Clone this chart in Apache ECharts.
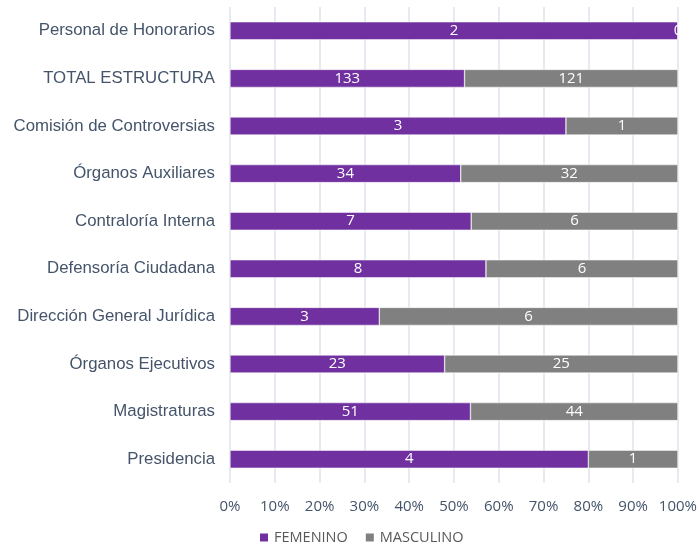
<!DOCTYPE html>
<html><head><meta charset="utf-8">
<script src="https://cdn.jsdelivr.net/npm/echarts@6/dist/echarts.min.js"></script>
<style>html,body{margin:0;padding:0;background:#fff}#c{width:700px;height:549px}</style>
</head><body><div id="c"></div>
<script>
var categories = ["Presidencia","Magistraturas","Órganos Ejecutivos","Dirección General Jurídica","Defensoría Ciudadana","Contraloría Interna","Órganos Auxiliares","Comisión de Controversias","TOTAL ESTRUCTURA","Personal de Honorarios"];
var femenino = [4,51,23,3,8,7,34,3,133,2];
var masculino = [1,44,25,6,6,6,32,1,121,0];
var tickLabels = ["0%","10%","20%","30%","40%","50%","60%","70%","80%","90%","100%"];

function pct(arr, i){ var t = femenino[i] + masculino[i]; return t ? arr[i] / t * 100 : 0; }
var femData = femenino.map(function(v,i){ return {value: pct(femenino,i), count: v}; });
var masData = masculino.map(function(v,i){ return {value: pct(masculino,i), count: v}; });

var chart = echarts.init(document.getElementById('c'));
var labelCfg = {show:true, position:'inside', color:'#ffffff', fontFamily:'Open Sans', fontSize:15,
  formatter:function(p){ return p.data.count; }};
chart.setOption({
  animation:false,
  grid:{left:230, right:22, top:7, bottom:66, containLabel:false},
  legend:{bottom:-1, left:253, itemWidth:10, itemHeight:10, itemGap:16, icon:'rect',
    textStyle:{color:'#595959', fontFamily:'Open Sans', fontSize:14.5},
    data:['FEMENINO','MASCULINO']},
  xAxis:{type:'value', min:0, max:100, interval:10,
    axisLabel:{color:'#44546a', fontFamily:'Open Sans', fontSize:15, margin:16,
      formatter:function(v){ return tickLabels[Math.round(v/10)]; }},
    splitLine:{lineStyle:{color:'#dfe4ec', width:1.5}},
    axisLine:{show:false}, axisTick:{show:false}},
  yAxis:{type:'category', data:categories,
    axisLabel:{color:'#44546a', fontFamily:'Liberation Sans', fontSize:16.8, margin:15},
    axisLine:{show:false}, axisTick:{show:false}},
  series:[
    {name:'FEMENINO', type:'bar', stack:'t', data:femData, barWidth:18,
      itemStyle:{color:'#7030a0', borderColor:'#ffffff', borderWidth:0.5}, label:labelCfg},
    {name:'MASCULINO', type:'bar', stack:'t', data:masData, barWidth:18,
      itemStyle:{color:'#808080', borderColor:'#ffffff', borderWidth:0.5}, label:labelCfg}
  ]
});
</script></body></html>
